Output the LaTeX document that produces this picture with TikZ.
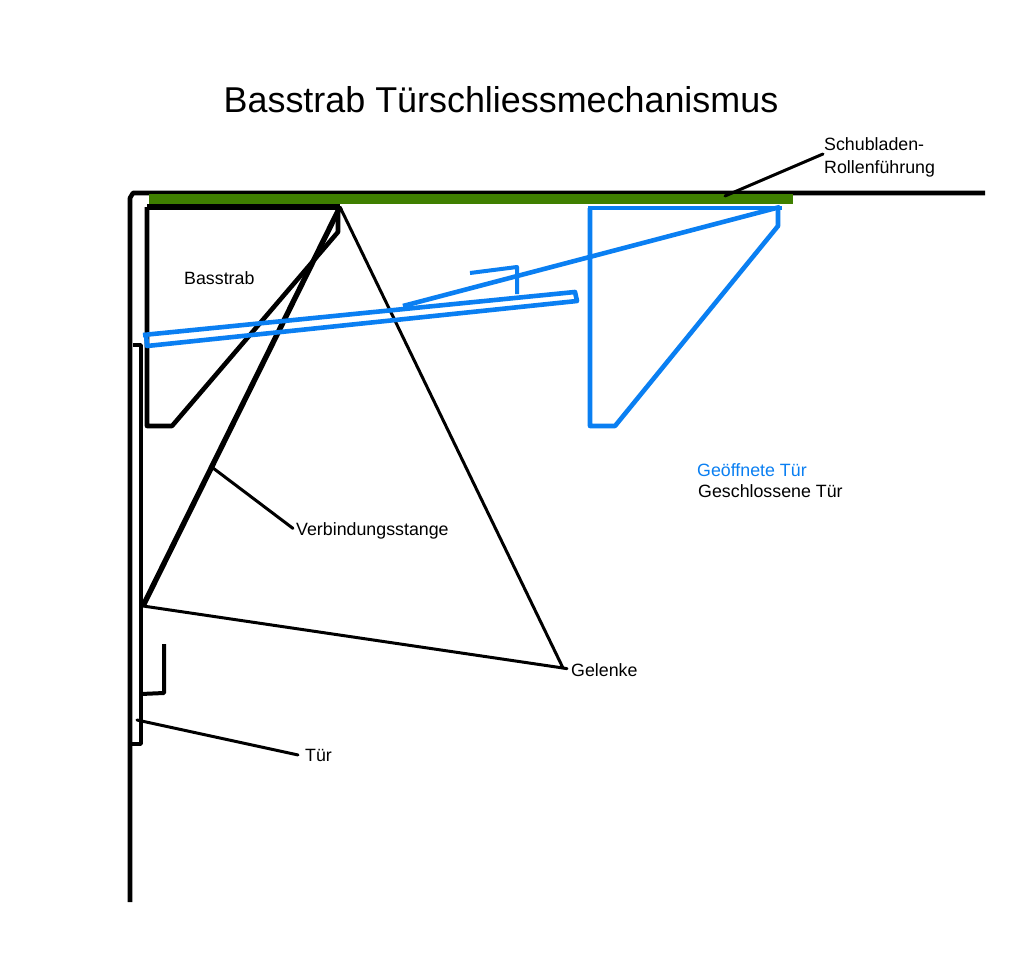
\documentclass[tikz,border=0pt]{standalone}
\usepackage{fontspec}
\setmainfont{Liberation Sans}
\usepackage{xcolor}
\definecolor{bg}{HTML}{FFFFFF}
\definecolor{ink}{HTML}{000000}
\definecolor{open}{HTML}{0A7FF2}
\definecolor{rail}{HTML}{3F7F00}
\tikzset{
  wall/.style={draw=ink, line width=4.6pt, line join=round},
  base/.style={draw=ink, line width=4.6pt, line join=round},
  link/.style={draw=ink, line width=3pt, line cap=round, line join=round},
  new/.style={draw=open, line width=4.6pt, line join=round},
  guide/.style={draw=rail, line width=10pt},
  lab/.style={text=ink, anchor=base west, inner sep=0pt, font=\fontsize{17.8}{20}\selectfont},
  labo/.style={lab, text=open},
  heading/.style={text=ink, inner sep=0pt, font=\fontsize{35.9}{40}\selectfont},
}
\begin{document}
\begin{tikzpicture}[x=1pt,y=-1pt]
  \useasboundingbox[fill=bg] (0,0) rectangle (1023,953);
  \coordinate (P) at (340,207);
  \coordinate (D) at (143,606);
  \coordinate (J) at (563,668);
  % closed
  \draw[wall] (130,902) -- (130,198) -- (133,193) -- (985,193);
  \draw[base, line width=3.8pt] (133,345) -- (141,345) -- (141,744) -- (131,744);
  \draw[base, line width=4pt] (141,694) -- (164,693) -- (164,644);
  \draw[base] (147,207) -- (147,426) -- (172,426) -- (338,232) -- (338,207);
  \draw[base, line width=6pt] (147,207) -- (P);
  \draw[base, line width=5.4pt] (D) -- (P);
  \draw[link] (P) -- (J) -- (D);
  % open
  \draw[new] (590,208) -- (590,426) -- (615,426) -- (778,226) -- (778,208);
  \draw[new] (588,208) -- (782,208);
  \draw[new] (780,207) -- (403,306);
  \draw[new] (143,335) -- (575,292) -- (577,301) -- (147,346) -- (146,334);
  \draw[new, line width=4pt] (470,273) -- (517,267) -- (517,294);
  \draw[guide] (149,198.5) -- (793,198.5);
  % labels
  \node[heading] (title) at (501,100) {Basstrab Türschliessmechanismus};
  \node[lab] (schub) at (824,150) {Schubladen-};
  \node[lab] (rolle) at (824,173) {Rollenführung};
  \node[lab] (bass) at (184,284) {Basstrab};
  \node[lab] (stange) at (296,535) {Verbindungsstange};
  \node[lab] (gelenke) at (571,676) {Gelenke};
  \node[lab] (tuer) at (305,761) {Tür};
  \node[labo] (offen) at (697,476) {Geöffnete Tür};
  \node[lab] (zu) at (698,497) {Geschlossene Tür};
  \coordinate (R) at (725,196);
  \coordinate (S) at (213,468);
  \coordinate (T) at (137,720);
  \draw[link] (schub.base west) ++(-1,4) -- (R);
  \draw[link] (stange.west) ++(-3,-2) -- (S);
  \draw[link] (gelenke.west) ++(-4,-1) -- (J);
  \draw[link] (tuer.west) ++(-7,0) -- (T);
\end{tikzpicture}
\end{document}
